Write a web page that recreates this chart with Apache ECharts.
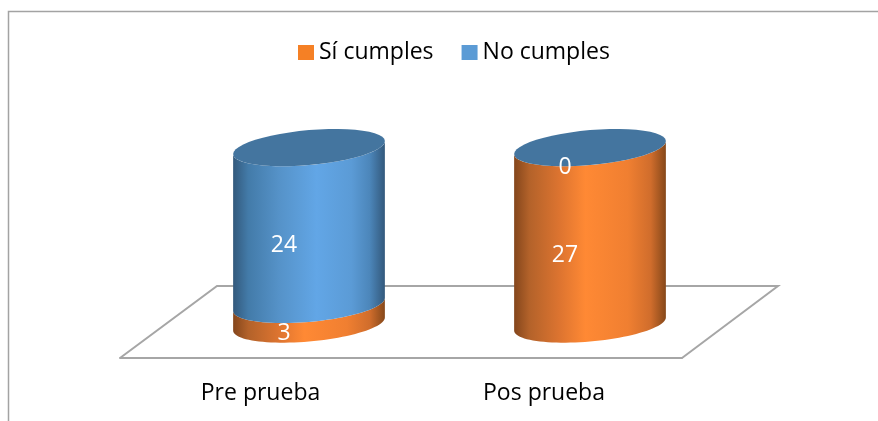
<!DOCTYPE html>
<html><head><meta charset="utf-8">
<style>html,body{margin:0;padding:0;background:#fff}#c{width:878px;height:421px}</style>
<script src="https://cdn.jsdelivr.net/npm/echarts@6/dist/echarts.min.js"></script></head>
<body><div id="c"></div>
<script>
const categories = ['Pre prueba', 'Pos prueba'];
const siCumples = [3, 27];
const noCumples = [24, 0];

const FONT = '"Open Sans"';
const depthX = 48.5, depthY = -34;
const ry = 17.5, skew = 6.5;
const gradient = stops => ({type:'linear',x:0,y:0,x2:1,y2:0,colorStops:stops.map(s=>({offset:s[0],color:s[1]}))});
const orangeFill = gradient([[0,'#84461c'],[0.1,'#b3622a'],[0.3,'#dd7430'],[0.47,'#ff8934'],[0.75,'#f07f31'],[0.9,'#d06d2c'],[1,'#86481a']]);
const blueFill = gradient([[0,'#33597c'],[0.1,'#437ba9'],[0.3,'#5592c8'],[0.55,'#62a6e6'],[0.78,'#5b9bd6'],[0.9,'#4c86ba'],[1,'#33597c']]);
const capColor = '#44759f';

function arc(cx, cy, rx, from, to) {
  const pts = [], n = 48;
  for (let i = 0; i <= n; i++) {
    const t = from + (to - from) * i / n;
    pts.push([cx + rx * Math.cos(t), cy + ry * Math.sin(t) - skew * Math.cos(t)]);
  }
  return pts;
}

function cylinder(fill, withCap) {
  return function (params, api) {
    const base = api.coord([api.value(0), api.value(1)]);
    const top = api.coord([api.value(0), api.value(2)]);
    const rx = api.size([1, 0])[0] * 0.54 / 2;
    const cx = base[0] + depthX;
    const yB = base[1] + depthY, yT = top[1] + depthY;
    const children = [];
    if (api.value(2) > api.value(1)) {
      children.push({type:'polygon',
        shape:{points: arc(cx, yT, rx, 0, Math.PI).concat(arc(cx, yB, rx, Math.PI, 0))},
        style:{fill: fill}});
    }
    if (withCap) {
      children.push({type:'polygon', shape:{points: arc(cx, yT, rx, 0, Math.PI * 2)}, style:{fill: capColor}});
    }
    children.push({type:'text', z2:10, style:{
      text: String(api.value(2) - api.value(1)),
      x: cx - 25, y: (yB + yT) / 2 + 19.5,
      fill:'#fff', font:'23px ' + FONT, align:'center', verticalAlign:'middle'}});
    return {type:'group', children};
  };
}

function stackData(lower, values) {
  return values.map((v, i) => [i, lower[i], lower[i] + v]);
}
const zeros = categories.map(() => 0);

const chart = echarts.init(document.getElementById('c'), null, {renderer:'canvas'});
chart.setOption({
  animation:false,
  backgroundColor:'#fff',
  graphic:[{type:'polyline', silent:true,
    shape:{points:[[8.5,421],[8.5,11.5],[878,11.5]]},
    style:{fill:'none', stroke:'#a3a3a3', lineWidth:1.5}}],
  legend:{data:['Sí cumples','No cumples'], left:298, top:41, padding:0, icon:'rect',
    itemWidth:16, itemHeight:15, itemGap:28, itemTextGap:6,
    textStyle:{fontFamily:FONT, fontSize:23, color:'#000'}},
  grid:{left:120, top:162, width:562, height:196},
  xAxis:{type:'category', data:categories,
    axisLine:{lineStyle:{color:'#a6a6a6', width:2}},
    axisTick:{show:false},
    axisLabel:{fontFamily:FONT, fontSize:23, color:'#000', margin:24,
      formatter:(v, i) => i === 1 ? '{b|' + v + '}' : v,
      rich:{b:{fontFamily:FONT, fontSize:23, color:'#000', padding:[0,0,0,5]}}}},
  yAxis:{type:'value', min:0, max:30, show:false, splitLine:{show:false}},
  series:[
    {type:'custom', name:'floor', silent:true, z:1, clip:false, data:[[0]],
     encode:{x:0},
     renderItem:function(params, api){
       const g = params.coordSys;
       const b = g.y + g.height;
       return {type:'polyline', shape:{points:[
         [g.x, b],[g.x + 97, b - 72],[g.x + g.width + 96, b - 72],[g.x + g.width, b]]},
         style:{fill:'none', stroke:'#a6a6a6', lineWidth:2}};
     }},
    {type:'custom', name:'Sí cumples', z:2, clip:false, itemStyle:{color:'#f58025'},
     data:stackData(zeros, siCumples), encode:{x:0, y:[1,2]},
     renderItem:cylinder(orangeFill, false)},
    {type:'custom', name:'No cumples', z:3, clip:false, itemStyle:{color:'#5b9bd5'},
     data:stackData(siCumples, noCumples), encode:{x:0, y:[1,2]},
     renderItem:cylinder(blueFill, true)}
  ]
});
</script></body></html>
